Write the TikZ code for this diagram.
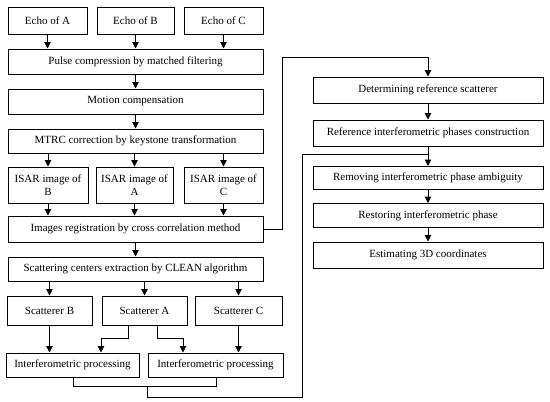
\documentclass[tikz,border=0pt]{standalone}
\usepackage{fontspec}
\setmainfont{Liberation Serif}
\usetikzlibrary{arrows.meta}
\begin{document}
\begin{tikzpicture}[x=1pt,y=-1pt,
  box/.style={draw, line width=1pt, align=center, inner sep=1pt, font=\fontsize{11}{12.5}\selectfont},
  arr/.style={line width=1pt, -{Triangle[length=6.5pt,width=6.5pt]}},
  ln/.style={line width=1pt}]
\useasboundingbox (0,0) rectangle (550,402);
% left column
\node[box, minimum width=79pt, minimum height=27pt] (eA) at (47.5,20.5) {Echo of A};
\node[box, minimum width=77pt, minimum height=27pt] (eB) at (135.5,20.5) {Echo of B};
\node[box, minimum width=79pt, minimum height=27pt] (eC) at (223.5,20.5) {Echo of C};
\node[box, minimum width=255pt, minimum height=25pt] (pc) at (135.5,61.5) {Pulse compression by matched filtering};
\node[box, minimum width=255pt, minimum height=25pt] (mc) at (135.5,101.5) {Motion compensation};
\node[box, minimum width=255pt, minimum height=24pt] (mt) at (135.5,141) {MTRC correction by keystone transformation};
\node[box, minimum width=80pt, minimum height=36pt] (iB) at (48,185) {ISAR image of\\B};
\node[box, minimum width=77pt, minimum height=36pt] (iA) at (134.5,185) {ISAR image of\\A};
\node[box, minimum width=79pt, minimum height=36pt] (iC) at (223.5,185) {ISAR image of\\C};
\node[box, minimum width=255pt, minimum height=26pt] (rg) at (135.5,229) {Images registration by cross correlation method};
\node[box, minimum width=255pt, minimum height=24pt] (sc) at (135.5,269) {Scattering centers extraction by CLEAN algorithm};
\node[box, minimum width=85pt, minimum height=29pt] (sB) at (49.5,310.5) {Scatterer B};
\node[box, minimum width=85pt, minimum height=29pt] (sA) at (144.5,310.5) {Scatterer A};
\node[box, minimum width=87pt, minimum height=29pt] (sC) at (238.5,310.5) {Scatterer C};
\node[box, minimum width=133pt, minimum height=24pt] (p1) at (72.5,365) {Interferometric processing};
\node[box, minimum width=135pt, minimum height=24pt] (p2) at (215.5,365) {Interferometric processing};
% right column
\node[box, minimum width=230pt, minimum height=26pt] (dr) at (428,90) {Determining reference scatterer};
\node[box, minimum width=230pt, minimum height=26pt] (rc) at (428,133) {Reference interferometric phases construction};
\node[box, minimum width=230pt, minimum height=23pt] (ra) at (428,178) {Removing interferometric phase ambiguity};
\node[box, minimum width=230pt, minimum height=24pt] (rp) at (428,215.5) {Restoring interferometric phase};
\node[box, minimum width=230pt, minimum height=26pt] (ec) at (428,255) {Estimating 3D coordinates};
% coordinates
\coordinate (r1) at (282,57);
\coordinate (a1) at (128,338);
\coordinate (a2) at (101,338);
\coordinate (b1) at (157,338);
\coordinate (b2) at (183,338);
\coordinate (m1) at (73,386);
\coordinate (m2) at (216,386);
\coordinate (n1) at (147,386);
\coordinate (n2) at (302,397);
\coordinate (n3) at (302,154);
% arrows
\draw[arr] (eA) -- (eA |- pc.north);
\draw[arr] (eB) -- (eB |- pc.north);
\draw[arr] (eC) -- (eC |- pc.north);
\draw[arr] (pc) -- (mc);
\draw[arr] (mc) -- (mt);
\draw[arr] (iB |- mt.south) -- (iB);
\draw[arr] (iA |- mt.south) -- (iA);
\draw[arr] (iC |- mt.south) -- (iC);
\draw[arr] (iB) -- (iB |- rg.north);
\draw[arr] (iA) -- (iA |- rg.north);
\draw[arr] (iC) -- (iC |- rg.north);
\draw[arr] (rg.east) -| (r1) -| (dr.north);
\draw[arr] (rg) -- (sc);
\draw[arr] (sB |- sc.south) -- (sB);
\draw[arr] (sA |- sc.south) -- (sA);
\draw[arr] (sC |- sc.south) -- (sC);
\draw[arr] (sB) -- (sB |- p1.north);
\draw[arr] (a1 |- sA.south) -- (a1) -- (a2) -- (a2 |- p1.north);
\draw[arr] (b1 |- sA.south) -- (b1) -- (b2) -- (b2 |- p2.north);
\draw[arr] (sC) -- (sC |- p2.north);
\draw[ln] (m1 |- p1.south) -- (m1) -- (m2) -- (m2 |- p2.south);
\draw[ln] (n1) |- (n2) -- (n3) -- (rc |- n3);
\draw[arr] (dr) -- (rc);
\draw[arr] (rc) -- (ra);
\draw[arr] (ra) -- (rp);
\draw[arr] (rp) -- (ec);
\end{tikzpicture}
\end{document}
